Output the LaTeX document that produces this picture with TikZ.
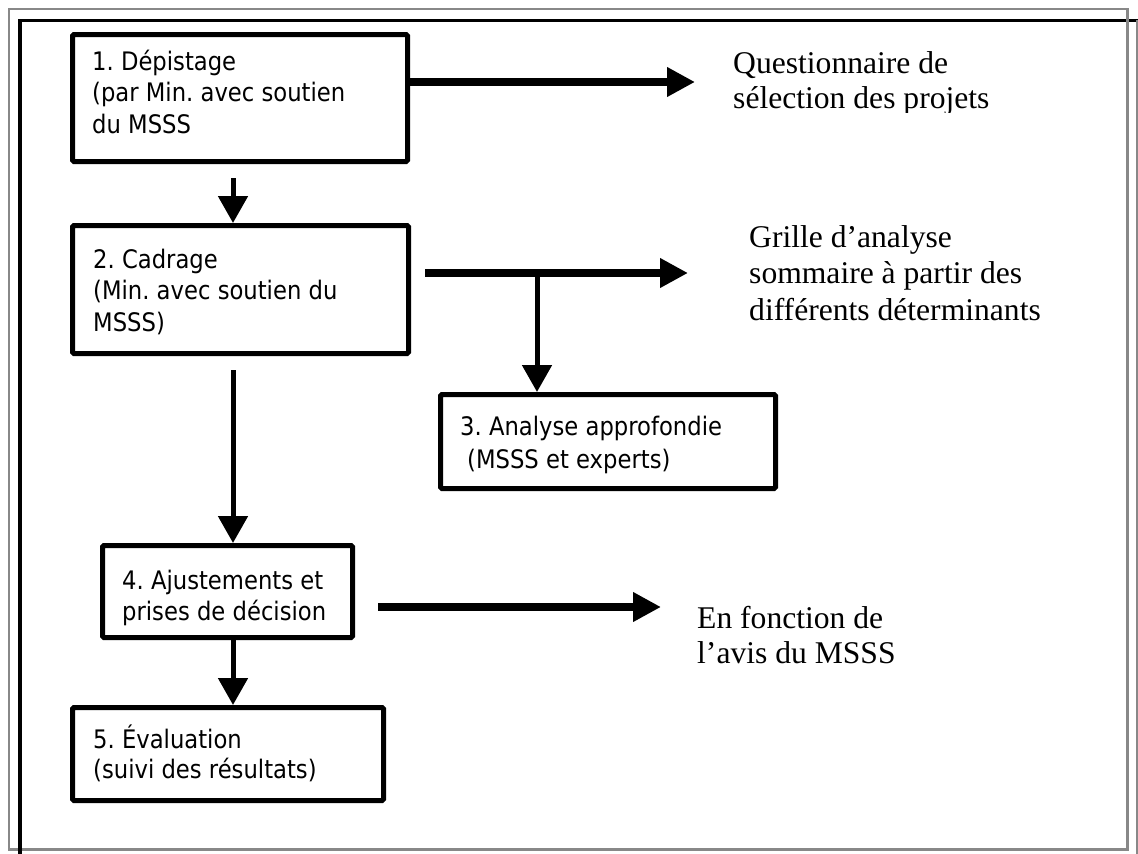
\documentclass[tikz,border=0pt]{standalone}
\usepackage{fontspec}
\setmainfont{Liberation Serif}
\newfontfamily\boxfont{DejaVu Sans}[FakeStretch=0.89]
\usetikzlibrary{arrows.meta}
\frenchspacing

% struts fixing the first baseline of each text block
\newcommand\bstrut{\rule{0pt}{25pt}}
\newcommand\sstrut{\rule{0pt}{30pt}}

\begin{document}
\begin{tikzpicture}[x=1pt,y=-1pt,
  stepbox/.style={draw, line width=5pt, rounded corners=1.5pt, inner sep=0pt},
  btext/.style={anchor=north west, inner sep=0pt, align=left,
    font=\boxfont\fontsize{25.5}{31.5}\selectfont},
  stext/.style={anchor=north west, inner sep=0pt, align=left,
    font=\fontsize{31.6}{35.5}\selectfont},
  medarrow/.style={line width=5pt, -{Triangle[length=27pt,width=29pt]}},
  bigarrow/.style={line width=8.5pt, -{Triangle[length=28pt,width=28pt]}},
]
\useasboundingbox (0,0) rectangle (1138,854);

% page frame
\draw[line width=3.5pt] (1138,20.5) -- (19.8,20.5);
\draw[color={rgb,255:red,136;green,136;blue,136}, line width=2.6pt] (9,9) rectangle (1127.7,849.2);
\draw[line width=3.5pt] (19.8,19) -- (19.8,854);
\draw[color={rgb,255:red,136;green,136;blue,136}, line width=1.4pt] (1136.9,20) -- (1136.9,854);

% step boxes
\node[stepbox, minimum width=335pt, minimum height=127pt] (b1) at (240,98) {};
\node[stepbox, minimum width=336pt, minimum height=128pt] (b2) at (240.5,289.5) {};
\node[stepbox, minimum width=335pt, minimum height=94pt] (b3) at (608,441.5) {};
\node[stepbox, minimum width=250pt, minimum height=92pt] (b4) at (227.5,591.5) {};
\node[stepbox, minimum width=311pt, minimum height=93pt] (b5) at (228,754) {};

% box texts (first baseline = top + 25)
\node[btext] (t1) at (92,45) {\bstrut 1. Dépistage\\(par Min. avec soutien\\du MSSS};
\node[btext] (t2) at (93,243) {\bstrut 2. Cadrage\\(Min. avec soutien du\\MSSS)};
\node[btext, font=\boxfont\fontsize{25.5}{33.5}\selectfont] (t3) at (460,410) {\bstrut 3. Analyse approfondie\\\hspace*{7pt}(MSSS et experts)};
\node[btext] (t4) at (122,564) {\bstrut 4. Ajustements et\\prises de décision};
\node[btext, font=\boxfont\fontsize{25.5}{30.5}\selectfont] (t5) at (93,723) {\bstrut 5. Évaluation\\(suivi des résultats)};

% side notes (first baseline = top + 30)
\begin{scope}
  \clip (700,30) rectangle (1100,112.6);
  \node[stext, font=\fontsize{31.6}{35}\selectfont] (n1) at (733,43) {\sstrut Questionnaire de\\sélection des projets};
\end{scope}
\node[stext, font=\fontsize{31.6}{36.5}\selectfont] (n2) at (749,217) {\sstrut Grille d’analyse\\sommaire à partir des\\différents déterminants};
\node[stext] (n3) at (697,598) {\sstrut En fonction de\\l’avis du MSSS};

% connector end points
\coordinate (q1) at (695,82);
\coordinate (g0) at (425,273);
\coordinate (g1) at (688,273);
\coordinate (br) at (537,273);
\coordinate (e0) at (378,607);
\coordinate (e1) at (661,607);
\coordinate (v1) at (233,178);
\coordinate (v2) at (233,370);

% connectors
\draw[bigarrow] (b1.east |- q1) -- (q1);
\draw[bigarrow] (g0) -- (g1);
\draw[medarrow] (br) -- (br |- b3.north);
\draw[bigarrow] (e0) -- (e1);
\draw[medarrow] (v1) -- (v1 |- b2.north);
\draw[medarrow] (v2) -- (v2 |- b4.north);
\draw[medarrow] (b4.south -| v2) -- (v2 |- b5.north);
\end{tikzpicture}
\end{document}
